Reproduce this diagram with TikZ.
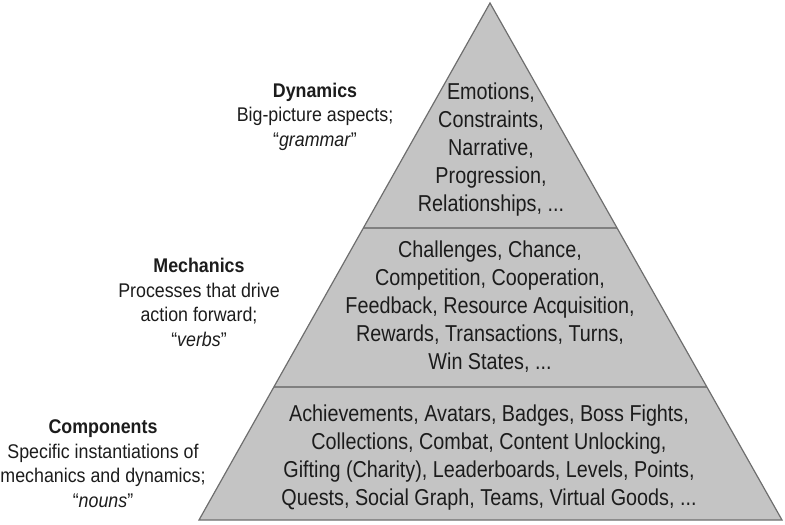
\documentclass[tikz,border=0pt]{standalone}
\usepackage{fontspec}
\setmainfont{Liberation Sans}[FakeStretch=0.86]
\newfontfamily\lblfont{Liberation Sans}[FakeStretch=0.9]
\definecolor{tierfill}{HTML}{C4C4C4}
\definecolor{edgecol}{HTML}{6E6E6E}
\definecolor{divcol}{HTML}{808080}
\definecolor{inkcol}{HTML}{1C1C1C}
\begin{document}
\begin{tikzpicture}[x=1pt,y=-1pt,
  tiertext/.style={anchor=base, align=center, text=inkcol, inner sep=0pt,
    font=\fontsize{23}{28}\selectfont},
  sidelabel/.style={anchor=base, align=center, text=inkcol, inner sep=0pt,
    font=\lblfont\fontsize{19.8}{24.5}\selectfont},
  outline/.style={draw=edgecol, line width=1.2pt, line join=miter},
  divider/.style={draw=divcol, line width=2.2pt}]
\useasboundingbox (0,0) rectangle (785,525);
\coordinate (apex) at (490,3);
\coordinate (bl) at (199,520);
\coordinate (br) at (782,520);
\coordinate (d1l) at (363.4,228);
\coordinate (d1r) at (617.1,228);
\coordinate (d2l) at (273.8,387);
\coordinate (d2r) at (706.9,387);
\fill[tierfill] (apex) -- (br) -- (bl) -- cycle;
\draw[divider] (d1l) -- (d1r);
\draw[divider] (d2l) -- (d2r);
\draw[outline] (apex) -- (br) -- (bl) -- cycle;

\node[tiertext] (dyntext) at (491,211) {Emotions,\\Constraints,\\Narrative,\\Progression,\\Relationships, ...};
\node[tiertext] (mechtext) at (490,369) {Challenges, Chance,\\Competition, Cooperation,\\Feedback, Resource Acquisition,\\Rewards, Transactions, Turns,\\Win States, ...};
\node[tiertext] (comptext) at (489,505) {Achievements, Avatars, Badges, Boss Fights,\\Collections, Combat, Content Unlocking,\\Gifting (Charity), Leaderboards, Levels, Points,\\Quests, Social Graph, Teams, Virtual Goods, ...};

\node[sidelabel] (dynlabel) at (315,146) {\textbf{Dynamics}\\Big-picture aspects;\\“\textit{grammar}”};
\node[sidelabel] (mechlabel) at (199,346) {\textbf{Mechanics}\\Processes that drive\\action forward;\\“\textit{verbs}”};
\node[sidelabel] (complabel) at (103,507) {\textbf{Components}\\Specific instantiations of\\mechanics and dynamics;\\“\textit{nouns}”};
\end{tikzpicture}
\end{document}
